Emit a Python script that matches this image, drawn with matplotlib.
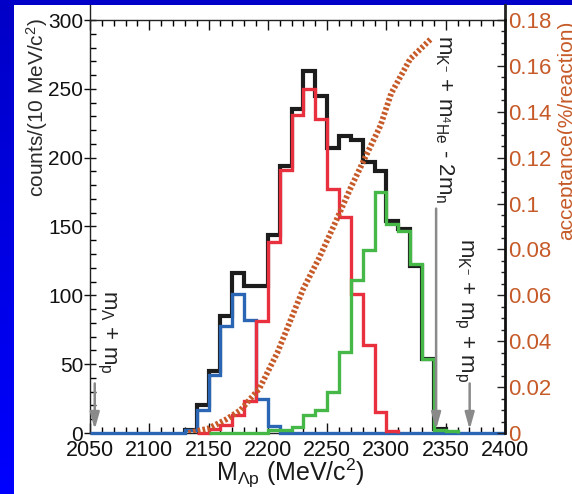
import numpy as np
import matplotlib
matplotlib.use('Agg')
import matplotlib.pyplot as plt

plt.rcParams['font.family'] = ['Liberation Sans', 'DejaVu Sans']
plt.rcParams['mathtext.fontset'] = 'custom'
plt.rcParams['mathtext.rm'] = 'Liberation Sans'
plt.rcParams['mathtext.it'] = 'Liberation Sans:italic'
plt.rcParams['mathtext.bf'] = 'Liberation Sans:bold'
plt.rcParams['mathtext.default'] = 'regular'

# ---------------- data ----------------
bin_width = 10  # MeV/c^2

total_start = 2130
total_counts = [2, 20, 45, 85, 116, 107, 107, 144, 194, 235, 263, 245,
                207, 216, 213, 197, 190, 154, 148, 121, 54, 3]

blue_start = 2050
blue_counts = [0, 0, 0, 0, 0, 0, 0, 0, 2, 17, 42, 78, 101, 82, 25, 5,
               0, 0, 0, 0, 0, 0, 0, 0, 0, 0, 0, 0, 0, 0, 0, 0, 0, 0, 0]

red_start = 2140
red_counts = [0, 3, 6, 13, 23, 81, 139, 191, 231, 250, 228, 177, 157,
              101, 64, 15, 1.5]

green_start = 2150
green_counts = [0, 0, 0, 0, 0, 2, 2.5, 4.5, 13, 17, 30, 59, 111, 133,
                175, 152, 147, 123, 54, 2, 1.5]

acc_mass = [2133, 2150, 2165, 2177, 2193, 2208, 2219, 2230, 2243, 2258,
            2270, 2282, 2295, 2304, 2320, 2330, 2338]
acc_value = [0.000, 0.002, 0.006, 0.010, 0.0195, 0.035, 0.049, 0.063,
             0.076, 0.093, 0.107, 0.120, 0.134, 0.148, 0.163, 0.168, 0.172]

thresholds = [2054.0, 2341.9, 2370.2]
threshold_labels = [r'm$_{\Lambda}$ + m$_\mathrm{p}$',
                    r'm$_{\mathrm{K}^{-}}$ + m$_{{}^{4}\mathrm{He}}$ - 2m$_\mathrm{n}$',
                    r'm$_{\mathrm{K}^{-}}$ + m$_\mathrm{p}$ + m$_\mathrm{p}$']

xticks = [2050, 2100, 2150, 2200, 2250, 2300, 2350, 2400]
yticks = [0, 50, 100, 150, 200, 250, 300]
rticks = [0, 0.02, 0.04, 0.06, 0.08, 0.1, 0.12, 0.14, 0.16, 0.18]
rtick_labels = ['0', '0.02', '0.04', '0.06', '0.08', '0.1', '0.12', '0.14', '0.16', '0.18']

# ---------------- figure ----------------
W, H = 572, 494
fig = plt.figure(figsize=(W / 100, H / 100), dpi=100)
fig.patch.set_facecolor('white')

# blue frame (left strip with gradient, top strip)
bgl = fig.add_axes([0, 0, 14 / W, 1])
grad = np.linspace(0, 1, 256)
cols = np.zeros((256, 1, 3))
cols[:, 0, 2] = 0.78 + 0.22 * grad
bgl.imshow(cols, aspect='auto', extent=[0, 1, 1, 0])
bgl.axis('off')
bgt = fig.add_axes([0, 1 - 5 / H, 1, 5 / H])
bgt.set_facecolor('#0000c8')
bgt.set_xticks([]); bgt.set_yticks([])
for s in bgt.spines.values():
    s.set_visible(False)

ax = fig.add_axes([90 / W, 1 - 433 / H, 415 / W, 413 / H])
ax.set_xlim(2050, 2400)
ax.set_ylim(0, 300)

def edges(start, n):
    return start + bin_width * np.arange(n + 1)

ax.stairs(total_counts, edges(total_start, len(total_counts)), color='#1c1c1c',
          lw=3.0, zorder=2, clip_on=False, baseline=0)
ax.stairs(blue_counts, edges(blue_start, len(blue_counts)), color='#2a66b4',
          lw=2.4, zorder=3, clip_on=False, baseline=0)
ax.stairs(red_counts, edges(red_start, len(red_counts)), color='#e8303e',
          lw=2.4, zorder=4, clip_on=False, baseline=0)
ax.stairs(green_counts, edges(green_start, len(green_counts)), color='#46b848',
          lw=2.4, zorder=5, clip_on=False, baseline=0)

# thresholds
gray = '#8a8a8a'
arrow_tail = [36, 163, 36]
text_x = [2064.3, 2348.6, 2365.4]
text_top = [104, 289, 142]
for m, lab, tail, tx, tt in zip(thresholds, threshold_labels, arrow_tail, text_x, text_top):
    ax.annotate('', xy=(m, 2.5), xytext=(m, tail),
                arrowprops=dict(arrowstyle='-|>,head_width=0.28,head_length=1.0',
                                color=gray, lw=1.8, shrinkA=0, shrinkB=0),
                zorder=6)
    ax.text(tx, tt, lab, rotation=-90, ha='center', va='top', fontsize=16,
            color='#222222', zorder=6)

# axes styling
ax.set_xticks(xticks)
ax.set_xticklabels([str(v) for v in xticks])
ax.set_xticks(np.arange(2050, 2401, 10), minor=True)
ax.set_yticks(yticks)
ax.set_yticks(np.arange(0, 301, 10), minor=True)
ax.tick_params(axis='x', which='major', direction='in', length=7, width=1,
               top=True, labelsize=15.5, pad=5, colors='#111111')
ax.tick_params(axis='x', which='minor', direction='in', length=4, width=1, top=True)
ax.tick_params(axis='y', which='major', direction='inout', length=8, width=1,
               right=False, labelsize=15, pad=1, colors='#111111')
ax.tick_params(axis='y', which='minor', direction='in', length=4, width=1, right=False)
for s in ['left', 'top', 'bottom']:
    ax.spines[s].set_linewidth(1.0)
    ax.spines[s].set_color('#222222')
ax.spines['right'].set_visible(False)

# right axis for acceptance
ax2 = ax.twinx()
ax2.set_ylim(0, 0.18)
ax2.plot(acc_mass, acc_value, color='#c65a28', lw=4.2,
         linestyle=(0, (0.45, 0.38)), zorder=7)
ax2.set_yticks(rticks)
ax2.set_yticklabels(rtick_labels)
ax2.set_yticks(np.arange(0, 0.1801, 0.005), minor=True)
ax2.tick_params(axis='y', which='major', direction='in', length=6, width=1,
                labelsize=16, pad=2, labelcolor='#c65a28', color='#222222')
ax2.tick_params(axis='y', which='minor', direction='in', length=3, width=1,
                color='#222222')
ax2.spines['right'].set_linewidth(2.0)
ax2.spines['right'].set_color('#111111')
for s in ['left', 'top', 'bottom']:
    ax2.spines[s].set_visible(False)

# spine extensions above the top axis
for xa in (0, 1):
    ax.plot([xa, xa], [1, 1 + 15 / 413], transform=ax.transAxes, color='#222222',
            lw=1.0 if xa == 0 else 2.0, clip_on=False)

# labels
ax.text(-0.1277, 0.789, r'counts/(10 MeV/c$^2$)', rotation=90, ha='center',
        va='center', fontsize=15, color='#2a2a2a', transform=ax.transAxes)
fig.text(290 / W, 1 - 473 / H, r'M$_{\Lambda \mathrm{p}}$ (MeV/c$^2$)', ha='center',
         va='center', fontsize=18, color='#1a1a1a')
fig.text(572 / W, 1 - 130 / H, 'acceptance(%/reaction)', rotation=90,
         rotation_mode='anchor', ha='center', va='baseline', fontsize=15,
         color='#c65a28')

fig.savefig('out.png', dpi=100)
